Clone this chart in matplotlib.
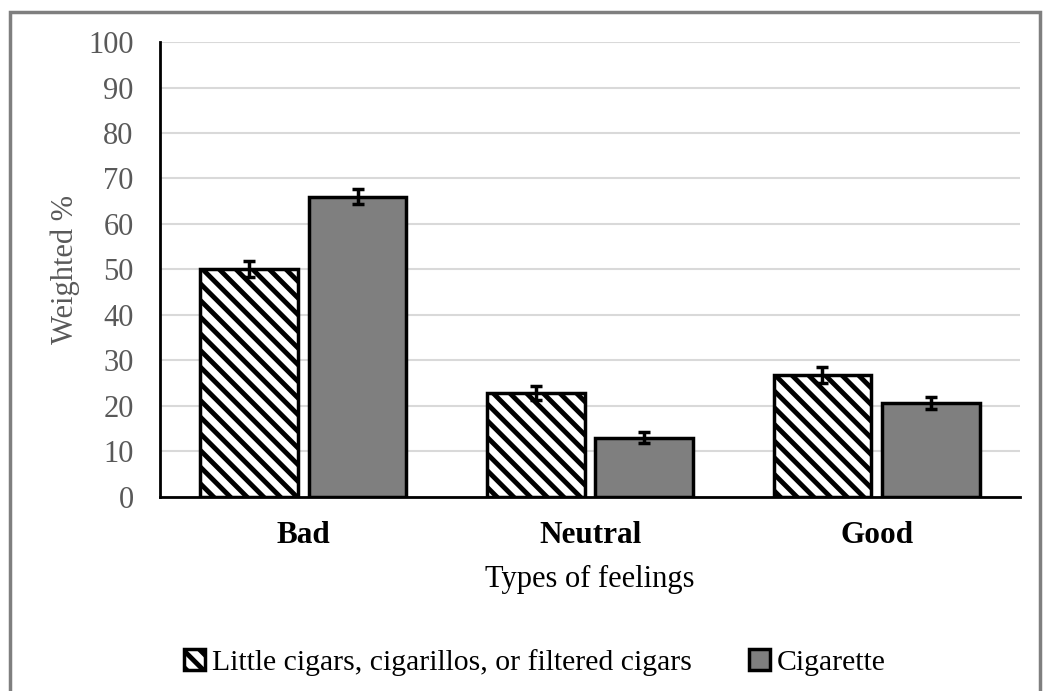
import numpy as np
import matplotlib.pyplot as plt
from matplotlib.patches import Rectangle

# Daten
categories = ['Bad', 'Neutral', 'Good']
lcc = [50.1, 22.9, 26.8]
lcc_err = [1.8, 1.6, 1.7]
cig = [66.0, 13.0, 20.7]
cig_err = [1.6, 1.2, 1.3]
series_names = ['Little cigars, cigarillos, or filtered cigars', 'Cigarette']

plt.rcParams['font.family'] = ['Liberation Serif', 'DejaVu Serif']
plt.rcParams['hatch.linewidth'] = 3.5

fig = plt.figure(figsize=(10.55, 6.91), dpi=100)
ax = fig.add_axes([0.1517, 0.2808, 0.8151, 0.6584])

x = np.arange(len(categories))
w = 0.34
gap = 0.038

ax.bar(x - (w + gap) / 2, lcc, w, color='white', edgecolor='black', hatch='\\\\',
       linewidth=2.5, label=series_names[0], zorder=3)
ax.bar(x + (w + gap) / 2, cig, w, color='#7f7f7f', edgecolor='black',
       linewidth=2.5, label=series_names[1], zorder=3)
ax.errorbar(x - (w + gap) / 2, lcc, yerr=lcc_err, fmt='none', ecolor='black',
            elinewidth=2.5, capsize=4.5, capthick=2.5, zorder=4)
ax.errorbar(x + (w + gap) / 2, cig, yerr=cig_err, fmt='none', ecolor='black',
            elinewidth=2.5, capsize=4.5, capthick=2.5, zorder=4)

ax.set_xlim(-0.5, 2.5)
ax.set_ylim(0, 100)
ax.set_yticks(np.arange(0, 101, 10))
ax.set_xticks(x)
ax.set_xticklabels(categories, fontsize=22.5, fontweight='bold')
ax.tick_params(axis='x', length=0, pad=17)
ax.tick_params(axis='y', length=0, pad=19, labelsize=22, labelcolor='#595959')
ax.yaxis.grid(True, color='#d9d9d9', linewidth=1.5, zorder=0)
ax.set_axisbelow(True)
for s in ['top', 'right']:
    ax.spines[s].set_visible(False)
for s in ['left', 'bottom']:
    ax.spines[s].set_linewidth(2)
    ax.spines[s].set_color('black')

ax.set_ylabel('Weighted %', fontsize=22, color='#595959', labelpad=6)
ax.set_xlabel('Types of feelings', fontsize=22, labelpad=11)

ax.legend(loc='center', bbox_to_anchor=(0.436, -0.363), ncol=2, frameon=False,
          fontsize=21.4, handlelength=0.7, handleheight=0.7, handletextpad=0.25,
          columnspacing=1.9, borderpad=0)

# Rahmen um die Grafik
fig.patches.append(Rectangle((10 / 1055, -0.05), 1030 / 1055, 1.05 - 12 / 691,
                             transform=fig.transFigure, fill=False,
                             edgecolor='#7f7f7f', linewidth=2.5))

fig.savefig('out.png', dpi=100)
